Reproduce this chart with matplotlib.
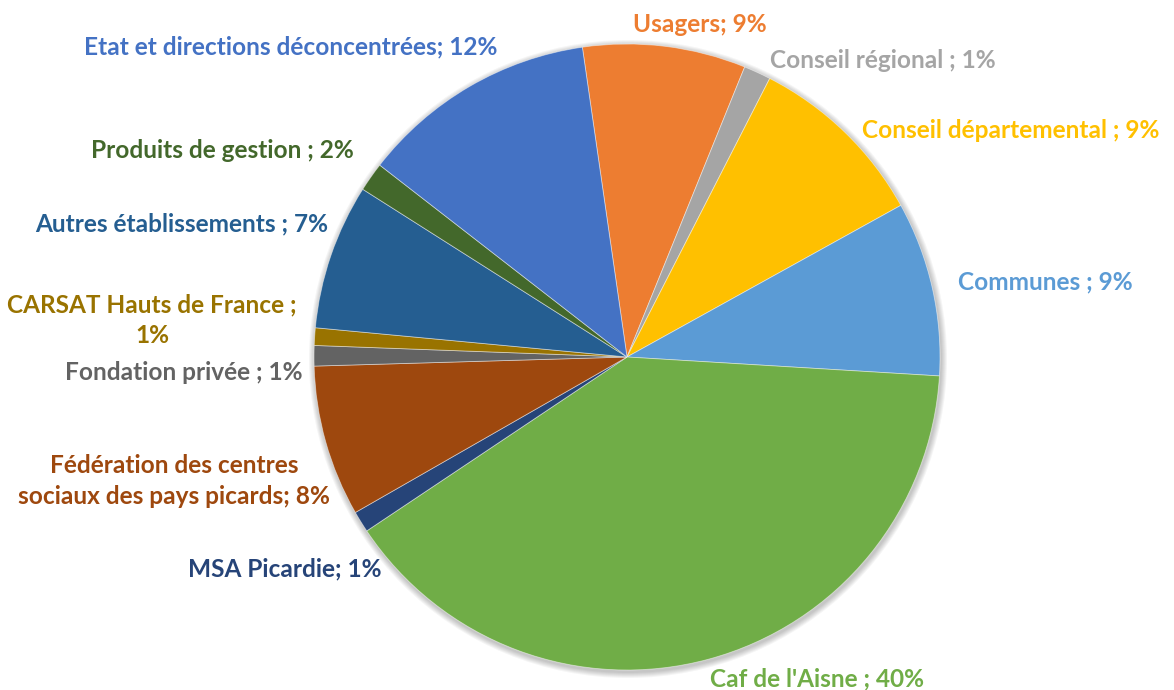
import numpy as np
import matplotlib.pyplot as plt
from matplotlib.patches import Circle

# parts du financement (ordre horaire depuis le haut)
labels = ['Usagers; 9%', 'Conseil régional ; 1%', 'Conseil départemental ; 9%',
          'Communes ; 9%', "Caf de l'Aisne ; 40%", 'MSA Picardie; 1%',
          'Fédération des centres\nsociaux des pays picards; 8%',
          'Fondation privée ; 1%', 'CARSAT Hauts de France ;\n1%',
          'Autres établissements ; 7%', 'Produits de gestion ; 2%',
          'Etat et directions déconcentrées; 12%']
values = [8.4, 1.4, 9.4, 9.0, 39.6, 1.1, 7.8, 1.05, 0.9, 7.5, 1.5, 12.2]
colors = ['#ED7D31', '#A5A5A5', '#FFC000', '#5B9BD5', '#70AD47', '#264478',
          '#9E480E', '#636363', '#997300', '#255E91', '#43682B', '#4472C4']

# position des étiquettes (pixels, origine en haut à gauche)
label_pos = [(700, 24), (883, 60), (1011, 131), (1045, 282), (817, 679),
             (285, 569), (174, 481), (184, 372), (152, 320), (182, 224),
             (222, 151), (291, 47)]

W, H = 1174, 690
fig = plt.figure(figsize=(W / 100, H / 100), dpi=100)
ax = fig.add_axes([0, 0, 1, 1])
ax.set_xlim(0, W)
ax.set_ylim(0, H)
ax.set_aspect('equal')
ax.axis('off')

cx, cy, r = 627, H - 357, 313

# ombre douce
for k in range(6):
    ax.add_patch(Circle((cx + 1, cy - 2), r + 1 + k, color='black',
                        alpha=0.04, lw=0, zorder=0))

ax.pie(values, colors=colors, startangle=98.2, counterclock=False,
       center=(cx, cy), radius=r, frame=True,
       wedgeprops=dict(edgecolor=(1, 1, 1, 0.5), linewidth=0.6))
ax.set_xlim(0, W)
ax.set_ylim(0, H)
ax.axis('off')

for lab, (x, y), c in zip(labels, label_pos, colors):
    ax.text(x, H - y, lab, color=c, fontsize=17.6, fontweight='bold',
            family='Lato', ha='center', va='center', linespacing=1.37)

fig.savefig('out.png', dpi=100)
